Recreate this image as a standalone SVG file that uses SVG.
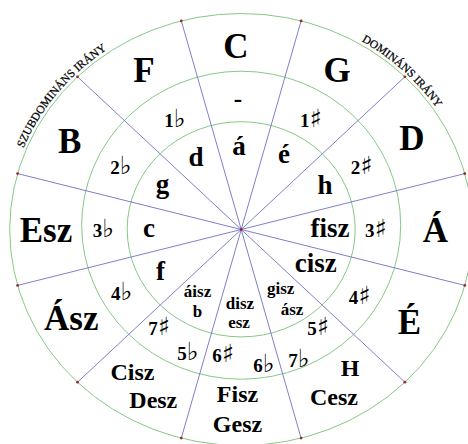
<svg xmlns="http://www.w3.org/2000/svg" width="468" height="444" viewBox="0 0 468 444">
<style>
.ring{fill:none;stroke:#86c986;stroke-width:1}
.ray{stroke:#7070c4;stroke-width:0.9}
.dot{fill:#9a2a2a}
text{font-family:"Liberation Serif","Times New Roman",serif;font-weight:bold;fill:#000;text-anchor:middle}
.maj{font-size:35px}
.maj2{font-size:24px}
.sig{font-size:19px}
.min{font-size:27px}
.min2{font-size:17px}
.acc{font-family:"DejaVu Sans",sans-serif;font-weight:normal;font-size:25px}
.arc{font-size:11.5px;font-weight:normal;stroke:#000;stroke-width:0.25}
</style>
<defs>
<path id="pSub" d="M 7.6 210.4 A 234.5 219.5 0 0 1 164.85 22.0"/>
<path id="pDom" d="M 297.9 16.5 A 234.5 219.5 0 0 1 466.6 169.0"/>
</defs>
<rect width="468" height="444" fill="#fff"/>
<g id="rings">
<ellipse class="ring" cx="241.2" cy="229.5" rx="231.5" ry="216"/>
<ellipse class="ring" cx="241.2" cy="225.2" rx="159.5" ry="154"/>
<ellipse class="ring" cx="241.2" cy="229.3" rx="114" ry="107.6"/>
</g>
<g id="connectors">
<line class="ray" x1="241.2" y1="229.5" x2="301.1" y2="20.9"/>
<line class="ray" x1="241.2" y1="229.5" x2="404.9" y2="76.8"/>
<line class="ray" x1="241.2" y1="229.5" x2="464.8" y2="173.6"/>
<line class="ray" x1="241.2" y1="229.5" x2="464.8" y2="285.4"/>
<line class="ray" x1="241.2" y1="229.5" x2="404.9" y2="382.2"/>
<line class="ray" x1="241.2" y1="229.5" x2="301.1" y2="438.1"/>
<line class="ray" x1="241.2" y1="229.5" x2="181.3" y2="438.1"/>
<line class="ray" x1="241.2" y1="229.5" x2="77.5" y2="382.2"/>
<line class="ray" x1="241.2" y1="229.5" x2="17.6" y2="285.4"/>
<line class="ray" x1="241.2" y1="229.5" x2="17.6" y2="173.6"/>
<line class="ray" x1="241.2" y1="229.5" x2="77.5" y2="76.8"/>
<line class="ray" x1="241.2" y1="229.5" x2="181.3" y2="20.9"/>
</g>
<g id="dots">
<circle class="dot" cx="241.2" cy="229.5" r="1.4"/>
<circle class="dot" cx="301.1" cy="20.9" r="1.4"/>
<circle class="dot" cx="404.9" cy="76.8" r="1.4"/>
<circle class="dot" cx="464.8" cy="173.6" r="1.4"/>
<circle class="dot" cx="464.8" cy="285.4" r="1.4"/>
<circle class="dot" cx="404.9" cy="382.2" r="1.4"/>
<circle class="dot" cx="301.1" cy="438.1" r="1.4"/>
<circle class="dot" cx="181.3" cy="438.1" r="1.4"/>
<circle class="dot" cx="77.5" cy="382.2" r="1.4"/>
<circle class="dot" cx="17.6" cy="285.4" r="1.4"/>
<circle class="dot" cx="17.6" cy="173.6" r="1.4"/>
<circle class="dot" cx="77.5" cy="76.8" r="1.4"/>
<circle class="dot" cx="181.3" cy="20.9" r="1.4"/>
</g>
<g id="direction-labels">
<text class="arc"><textPath href="#pSub" startOffset="50%">SZUBDOMINÁNS IRÁNY</textPath></text>
<text class="arc"><textPath href="#pDom" startOffset="50%">DOMINÁNS IRÁNY</textPath></text>
</g>
<g id="major-keys">
<text class="maj" x="236" y="58">C</text>
<text class="maj" x="337" y="82">G</text>
<text class="maj" x="412" y="150">D</text>
<text class="maj" x="435.5" y="241.7">Á</text>
<text class="maj" x="409.5" y="333.7">É</text>
<text class="maj2" x="350" y="376">H</text>
<text class="maj2" x="334" y="404.7">Cesz</text>
<text class="maj2" x="237.5" y="401.7">Fisz</text>
<text class="maj2" x="237.5" y="431.7">Gesz</text>
<text class="maj2" x="132.5" y="380.3">Cisz</text>
<text class="maj2" x="153.3" y="408">Desz</text>
<text class="maj" x="71.3" y="330.3">Ász</text>
<text class="maj" x="46" y="241.7">Esz</text>
<text class="maj" x="69.7" y="152.7">B</text>
<text class="maj" x="144" y="82">F</text>
</g>
<g id="signatures">
<text class="sig" x="238" y="107" style="font-size:25px">-</text>
<text class="sig" x="310.7" y="126.7">1<tspan class="acc">♯</tspan></text>
<text class="sig" x="361.5" y="174">2<tspan class="acc">♯</tspan></text>
<text class="sig" x="375.7" y="237">3<tspan class="acc">♯</tspan></text>
<text class="sig" x="359.5" y="303.7">4<tspan class="acc">♯</tspan></text>
<text class="sig" x="318" y="335.3">5<tspan class="acc">♯</tspan></text>
<text class="sig" x="299" y="367">7<tspan class="acc">♭</tspan></text>
<text class="sig" x="264" y="371.5">6<tspan class="acc">♭</tspan></text>
<text class="sig" x="223" y="361.7">6<tspan class="acc">♯</tspan></text>
<text class="sig" x="188" y="360.3">5<tspan class="acc">♭</tspan></text>
<text class="sig" x="159" y="335.3">7<tspan class="acc">♯</tspan></text>
<text class="sig" x="121.7" y="300.3">4<tspan class="acc">♭</tspan></text>
<text class="sig" x="103.3" y="236.7">3<tspan class="acc">♭</tspan></text>
<text class="sig" x="121" y="174">2<tspan class="acc">♭</tspan></text>
<text class="sig" x="175" y="126.7">1<tspan class="acc">♭</tspan></text>
</g>
<g id="minor-keys">
<text class="min" x="239" y="155">á</text>
<text class="min" x="284" y="163.3">é</text>
<text class="min" x="325" y="194.3">h</text>
<text class="min" x="330" y="237">fisz</text>
<text class="min" x="315.7" y="272">cisz</text>
<text class="min2" x="280.7" y="293.7">gisz</text>
<text class="min2" x="292" y="314.7">ász</text>
<text class="min2" x="240" y="309">disz</text>
<text class="min2" x="239" y="328.3">esz</text>
<text class="min2" x="197.5" y="297">áisz</text>
<text class="min2" x="197.5" y="317">b</text>
<text class="min" x="160.5" y="280.3">f</text>
<text class="min" x="149" y="236.7">c</text>
<text class="min" x="162.5" y="193">g</text>
<text class="min" x="196" y="165.7">d</text>
</g>
</svg>
